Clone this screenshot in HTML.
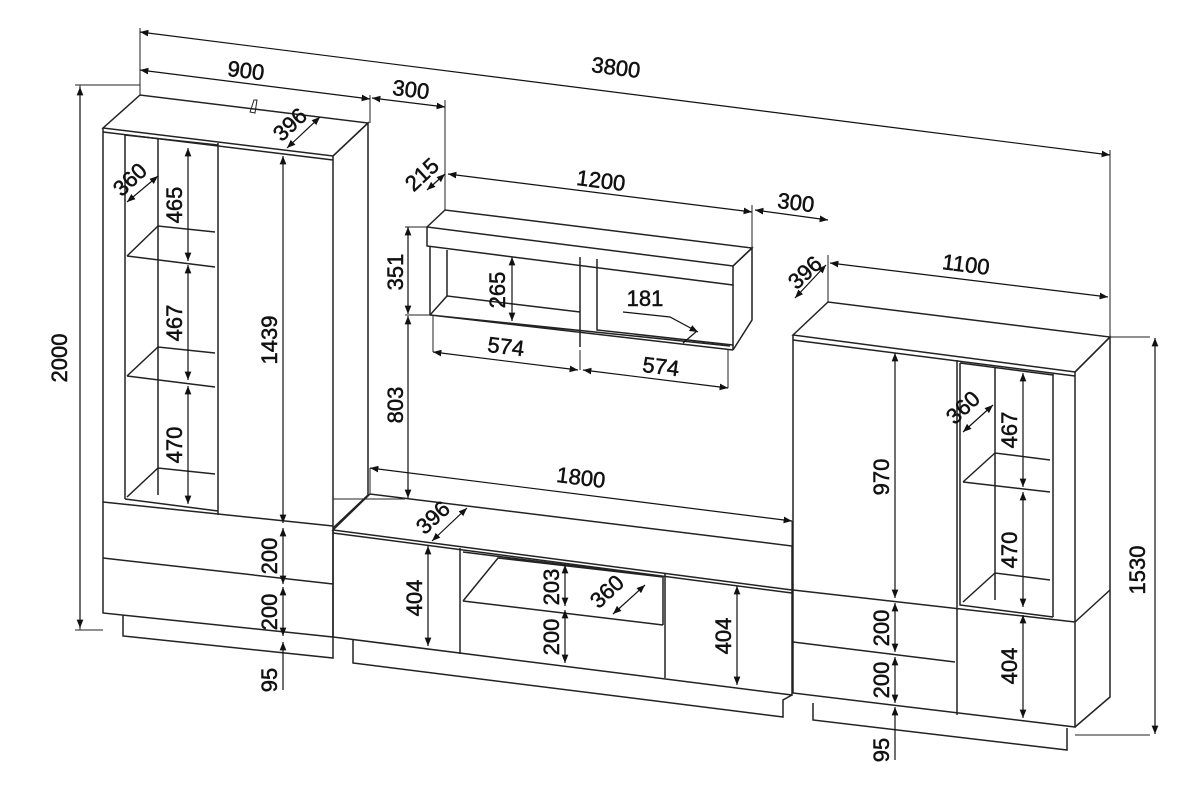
<!DOCTYPE html>
<html><head><meta charset="utf-8"><style>html,body{margin:0;padding:0;background:#fff}svg{display:block}text{font-family:"Liberation Sans",Arial,sans-serif;font-size:22px;fill:#111;stroke:#111;stroke-width:0.5}</style></head><body>
<svg width="1200" height="790" viewBox="0 0 1200 790" xmlns="http://www.w3.org/2000/svg">
<defs><marker id="a" viewBox="0 0 10 10" refX="10" refY="5" markerWidth="7" markerHeight="7" orient="auto-start-reverse"><path d="M0,1 L10,5 L0,9 z" fill="#111"/></marker></defs>
<g stroke="#222" stroke-width="1.5" fill="none">
<!-- LEFT CABINET -->
<path d="M103,128 L140,95 L368,123 L333,156 Z" fill="#fff"/>
<path d="M103,128 L103,613 L333,637 L333,156"/>
<path d="M103,132 L333,160"/>
<path d="M333,156 L368,123 L368,495 L333,528"/>
<path d="M125,135 L125,499 M218,143 L218,515 M125,135 L218,145 M158,139 L158,495"/>
<path d="M125,499 L218,511"/>
<path d="M127,256 L158,226 L215,232 M127,256 L215,267"/>
<path d="M127,376 L158,347 L215,353 M127,376 L215,387"/>
<path d="M127,497 L158,468 L215,474"/>
<path d="M103,502 L333,526 M103,558 L333,584"/>
<path d="M123,615 L123,636 L333,658 L333,637"/>
<path d="M250,112 L254,100 L257,100 L255,113 Z" stroke-width="1"/>
<!-- WALL SHELF -->
<path d="M427,227 L445,210 L752,248 L733,266 Z"/>
<path d="M427,227 L427,246 L733,285 L733,266"/>
<path d="M733,266 L752,248 L752,320 L733,350"/>
<path d="M430,246 L430,315 L733,350 M733,285 L733,350 M430,315 L730,346"/>
<path d="M447,250 L447,296 L580,312 M580,257 L580,347 M597,259 L597,330 L733,345 M430,315 L447,296"/>
<!-- TV STAND -->
<path d="M333,530 L370,494 L792,546 L792,590 Z" fill="#fff"/>
<path d="M333,530 L333,637 L792,695 L792,590"/>
<path d="M333,533 L792,593"/>
<path d="M460,548 L460,654 M665,574 L665,678"/>
<path d="M463,552 L663,577 M463,601 L663,625 M463,601 L498,558 L663,577 M663,577 L663,625"/>
<path d="M353,639 L353,663 L783,717 L783,700 L792,695"/>
<!-- RIGHT CABINET -->
<path d="M793,335 L828,302 L1110,337 L1075,372 Z" fill="#fff"/>
<path d="M793,335 L793,693 L1075,727 L1075,372"/>
<path d="M793,340 L1075,376"/>
<path d="M1075,372 L1110,337 L1110,697 L1075,727"/>
<path d="M1075,622 L1110,590"/>
<path d="M793,590 L1075,622 M793,642 L955,662 M957,360 L957,715"/>
<path d="M960,363 L960,605 L1053,617 M1053,374 L1053,617 M960,363 L1053,375 M995,367 L995,600"/>
<path d="M963,482 L995,453 L1050,460 M963,482 L1050,492 M963,602 L995,573 L1050,580"/>
<path d="M813,703 L813,720 L1067,750 L1067,728"/>
</g>
<g stroke="#222" stroke-width="1" fill="none">
<path d="M140,28 L140,95 M1110,150 L1110,337 M370,95 L370,123 M445,100 L445,210 M752,205 L752,248 M828,255 L828,302 M80,85 L80,630 M75,85 L140,85 M75,630 L103,630 M1150,337 L1110,337 M1150,735 L1075,735 M405,227 L427,227 M405,315 L430,315 M405,499 L333,499"/>
<path d="M370,468 L370,494 M792,521 L792,546 M433,352 L433,315 M728,388 L728,350 M580,350 L580,370"/>
</g>
<g stroke="#111" stroke-width="1.2" fill="none" marker-start="url(#a)" marker-end="url(#a)">
<line x1="140" y1="32" x2="1110" y2="155"/>
<line x1="140" y1="70" x2="370" y2="99"/>
<line x1="372" y1="98" x2="445" y2="107"/>
<line x1="448" y1="174" x2="752" y2="212"/>
<line x1="755" y1="210" x2="828" y2="220"/>
<line x1="830" y1="263" x2="1108" y2="297"/>
<line x1="80" y1="87" x2="80" y2="628"/>
<line x1="1155" y1="338" x2="1155" y2="734"/>
<line x1="408" y1="227" x2="408" y2="314"/>
<line x1="408" y1="316" x2="408" y2="498"/>
<line x1="512" y1="257" x2="512" y2="321"/>
<line x1="433" y1="352" x2="578" y2="370"/>
<line x1="583" y1="370" x2="728" y2="388"/>
<line x1="370" y1="468" x2="792" y2="521"/>
<line x1="427" y1="190" x2="445" y2="174"/>
<line x1="432" y1="541" x2="467" y2="508"/>
<line x1="428" y1="546" x2="428" y2="646"/>
<line x1="565" y1="565" x2="565" y2="606"/>
<line x1="565" y1="610" x2="565" y2="663"/>
<line x1="613" y1="614" x2="645" y2="585"/>
<line x1="737" y1="586" x2="737" y2="685"/>
<line x1="188" y1="148" x2="188" y2="261"/>
<line x1="188" y1="265" x2="188" y2="380"/>
<line x1="188" y1="386" x2="188" y2="504"/>
<line x1="283" y1="156" x2="283" y2="523"/>
<line x1="283" y1="528" x2="283" y2="584"/>
<line x1="283" y1="587" x2="283" y2="636"/>
<line x1="127" y1="202" x2="158" y2="176"/>
<line x1="287" y1="148" x2="320" y2="117"/>
<line x1="895" y1="353" x2="895" y2="598"/>
<line x1="895" y1="603" x2="895" y2="652"/>
<line x1="895" y1="657" x2="895" y2="703"/>
<line x1="1023" y1="373" x2="1023" y2="487"/>
<line x1="1023" y1="492" x2="1023" y2="607"/>
<line x1="1023" y1="615" x2="1023" y2="718"/>
<line x1="963" y1="432" x2="993" y2="405"/>
<line x1="795" y1="298" x2="826" y2="265"/>
</g>
<g stroke="#111" stroke-width="1.2" fill="none">
<path d="M283,690 L283,642" marker-end="url(#a)"/>
<path d="M895,760 L895,707" marker-end="url(#a)"/>
<path d="M623,312 L670,317 L698,332" marker-end="url(#a)"/>
<path d="M683,343 L697,331"/>
</g>
<g>
<text x="615" y="75" text-anchor="middle" transform="rotate(7.2 615 75)">3800</text>
<text x="245" y="78" text-anchor="middle" transform="rotate(7.2 245 78)">900</text>
<text x="410" y="97" text-anchor="middle" transform="rotate(7.2 410 97)">300</text>
<text x="600" y="188" text-anchor="middle" transform="rotate(7.2 600 188)">1200</text>
<text x="795" y="210" text-anchor="middle" transform="rotate(7.2 795 210)">300</text>
<text x="965" y="272" text-anchor="middle" transform="rotate(7.2 965 272)">1100</text>
<text x="580" y="485" text-anchor="middle" transform="rotate(7.2 580 485)">1800</text>
<text x="505" y="354" text-anchor="middle" transform="rotate(7.2 505 354)">574</text>
<text x="660" y="374" text-anchor="middle" transform="rotate(7.2 660 374)">574</text>
<text x="645" y="306" text-anchor="middle">181</text>
<text x="0" y="0" text-anchor="middle" transform="translate(427,180) rotate(-43)">215</text>
<text x="0" y="0" text-anchor="middle" transform="translate(295,130) rotate(-43)">396</text>
<text x="0" y="0" text-anchor="middle" transform="translate(135,185) rotate(-43)">360</text>
<text x="0" y="0" text-anchor="middle" transform="translate(438,523) rotate(-43)">396</text>
<text x="0" y="0" text-anchor="middle" transform="translate(612,597) rotate(-43)">360</text>
<text x="0" y="0" text-anchor="middle" transform="translate(968,413) rotate(-43)">360</text>
<text x="0" y="0" text-anchor="middle" transform="translate(810,278) rotate(-43)">396</text>
<text x="0" y="0" text-anchor="middle" transform="translate(67,358) rotate(-90)">2000</text>
<text x="0" y="0" text-anchor="middle" transform="translate(1145,570) rotate(-90)">1530</text>
<text x="0" y="0" text-anchor="middle" transform="translate(403,272) rotate(-90)">351</text>
<text x="0" y="0" text-anchor="middle" transform="translate(403,405) rotate(-90)">803</text>
<text x="0" y="0" text-anchor="middle" transform="translate(505,290) rotate(-90)">265</text>
<text x="0" y="0" text-anchor="middle" transform="translate(182,205) rotate(-90)">465</text>
<text x="0" y="0" text-anchor="middle" transform="translate(182,323) rotate(-90)">467</text>
<text x="0" y="0" text-anchor="middle" transform="translate(182,445) rotate(-90)">470</text>
<text x="0" y="0" text-anchor="middle" transform="translate(277,340) rotate(-90)">1439</text>
<text x="0" y="0" text-anchor="middle" transform="translate(277,556) rotate(-90)">200</text>
<text x="0" y="0" text-anchor="middle" transform="translate(277,612) rotate(-90)">200</text>
<text x="0" y="0" text-anchor="middle" transform="translate(277,680) rotate(-90)">95</text>
<text x="0" y="0" text-anchor="middle" transform="translate(422,598) rotate(-90)">404</text>
<text x="0" y="0" text-anchor="middle" transform="translate(559,587) rotate(-90)">203</text>
<text x="0" y="0" text-anchor="middle" transform="translate(559,637) rotate(-90)">200</text>
<text x="0" y="0" text-anchor="middle" transform="translate(731,636) rotate(-90)">404</text>
<text x="0" y="0" text-anchor="middle" transform="translate(889,477) rotate(-90)">970</text>
<text x="0" y="0" text-anchor="middle" transform="translate(889,628) rotate(-90)">200</text>
<text x="0" y="0" text-anchor="middle" transform="translate(889,680) rotate(-90)">200</text>
<text x="0" y="0" text-anchor="middle" transform="translate(889,750) rotate(-90)">95</text>
<text x="0" y="0" text-anchor="middle" transform="translate(1017,430) rotate(-90)">467</text>
<text x="0" y="0" text-anchor="middle" transform="translate(1017,550) rotate(-90)">470</text>
<text x="0" y="0" text-anchor="middle" transform="translate(1017,666) rotate(-90)">404</text>
</g>
</svg>
</body></html>
